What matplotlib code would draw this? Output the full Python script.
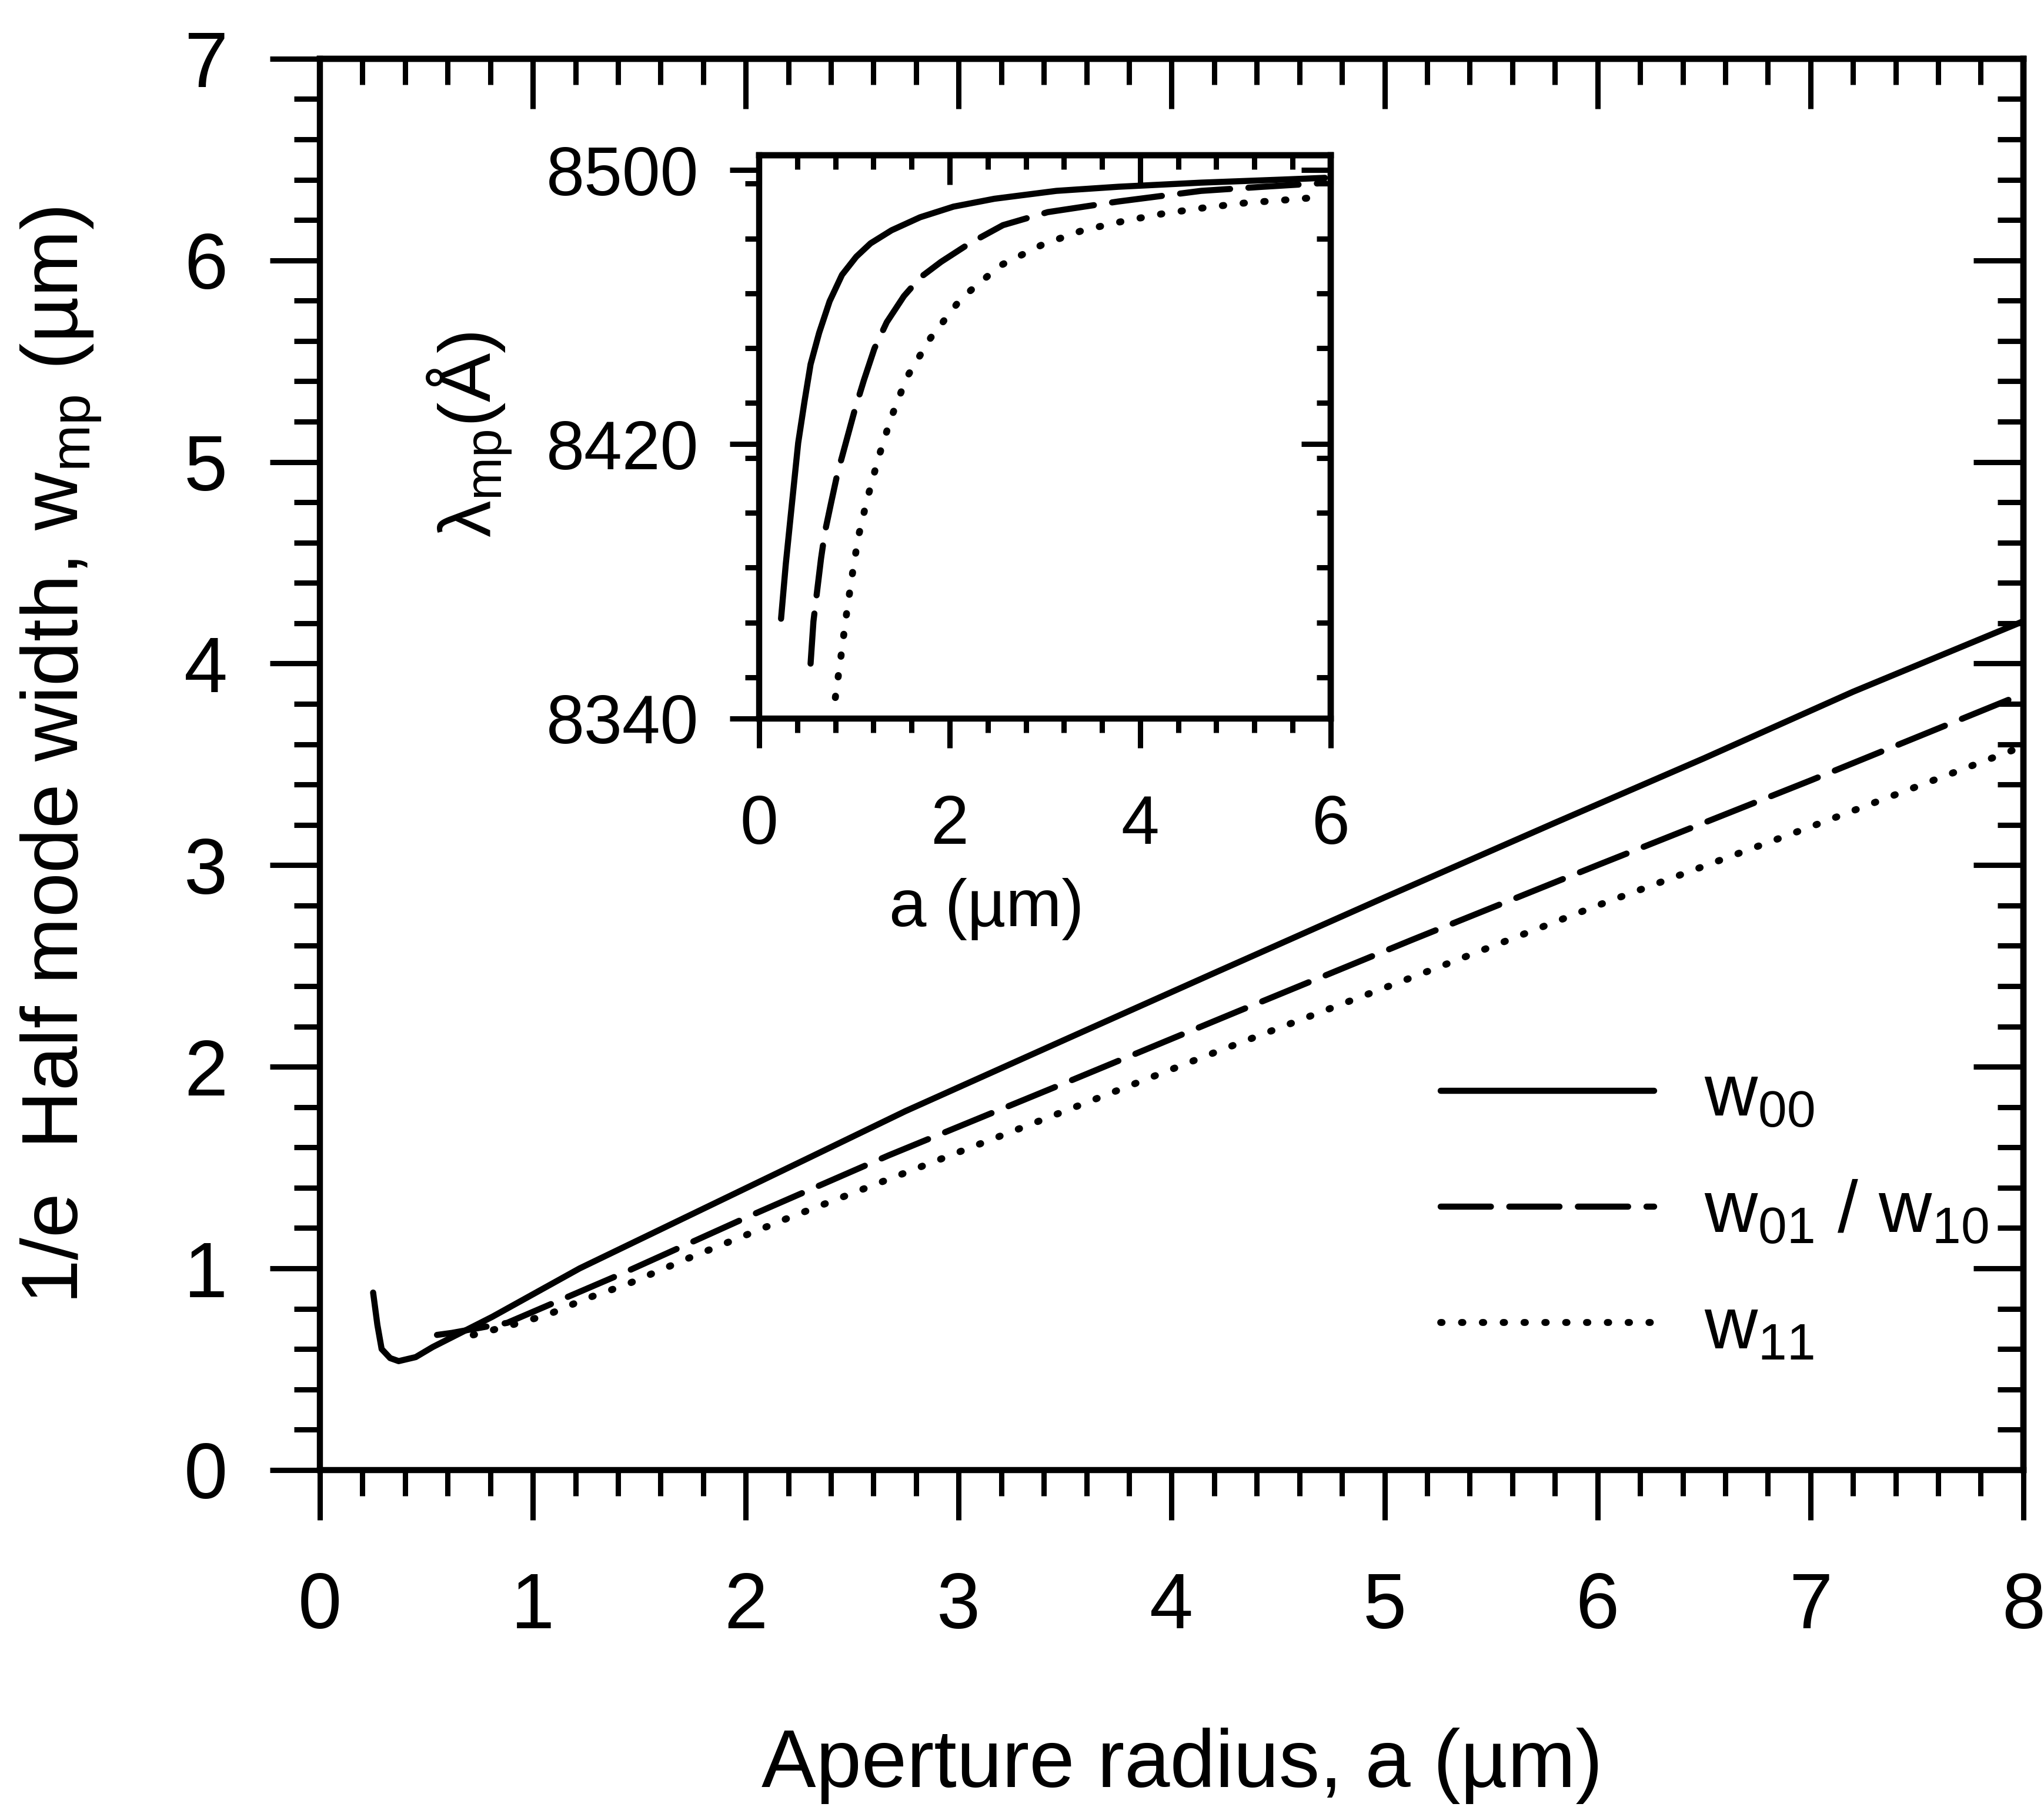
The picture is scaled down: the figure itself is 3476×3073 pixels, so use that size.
import matplotlib
matplotlib.use("Agg")
import matplotlib.pyplot as plt
from matplotlib.ticker import MultipleLocator, FixedLocator

plt.rcParams['font.family'] = ['Liberation Sans', 'DejaVu Sans']
plt.rcParams['mathtext.fontset'] = 'custom'
plt.rcParams['mathtext.rm'] = 'Liberation Sans'
plt.rcParams['mathtext.it'] = 'Liberation Sans:italic'
plt.rcParams['mathtext.bf'] = 'Liberation Sans:bold'

# ---------------- data (main plot: mode width vs aperture radius) -------------
w00_x = [0.25, 0.27, 0.29, 0.33, 0.37, 0.45, 0.53, 0.81, 1.22, 1.75, 2.28, 2.75, 3.5, 4.2, 5.0, 5.8, 6.5, 7.2, 8.0]
w00_y = [0.88, 0.72, 0.60, 0.555, 0.54, 0.56, 0.61, 0.76, 1.00, 1.27, 1.54, 1.78, 2.135, 2.465, 2.84, 3.21, 3.53, 3.86, 4.21]

w01_x = [0.55, 0.62, 0.88, 1.41, 2.04, 2.67, 3.5, 4.3, 5.13, 6.0, 7.0, 8.0]
w01_y = [0.67, 0.68, 0.73, 0.97, 1.27, 1.56, 1.92, 2.27, 2.63, 3.00, 3.42, 3.85]

w11_x = [0.72, 0.87, 1.07, 1.25, 1.44, 1.73, 2.2, 2.69, 3.4, 4.2, 5.17, 6.0, 7.0, 8.0]
w11_y = [0.67, 0.71, 0.77, 0.85, 0.92, 1.05, 1.25, 1.45, 1.74, 2.07, 2.46, 2.80, 3.19, 3.59]

# ---------------- data (inset: lasing wavelength vs aperture radius) ----------
l00_x = [0.23, 0.28, 0.325, 0.37, 0.41, 0.477, 0.54, 0.63, 0.74, 0.87, 1.02, 1.17, 1.39, 1.69,
         2.04, 2.47, 3.12, 3.77, 4.64, 5.50, 5.94]
l00_y = [8369.1, 8385.1, 8397.4, 8409.6, 8420.4, 8432.6, 8443.3, 8452.5, 8461.7, 8469.4, 8474.7,
         8478.6, 8482.4, 8486.2, 8489.3, 8491.6, 8493.9, 8495.1, 8496.3, 8497.2, 8497.7]

l01_x = [0.54, 0.57, 0.61, 0.65, 0.69, 0.76, 0.82, 0.91, 1.00, 1.10, 1.21, 1.34, 1.52, 1.69,
         1.91, 2.21, 2.56, 3.03, 3.77, 4.64, 5.29, 5.94]
l01_y = [8356.0, 8368.3, 8377.5, 8386.7, 8394.3, 8403.5, 8411.2, 8420.4, 8429.6, 8438.7, 8447.9,
         8455.6, 8463.2, 8468.6, 8473.2, 8478.6, 8483.9, 8487.7, 8490.8, 8493.9, 8495.1, 8496.2]

l11_x = [0.80, 0.86, 0.91, 0.97, 1.04, 1.13, 1.25, 1.38, 1.55, 1.80, 2.12, 2.53, 2.98, 3.40,
         3.83, 4.25, 4.68, 5.11, 5.55, 5.94]
l11_y = [8346.1, 8358.3, 8369.1, 8380.6, 8392.8, 8403.5, 8415.8, 8427.3, 8439.5, 8451.0, 8462.5,
         8472.1, 8478.3, 8482.4, 8485.1, 8487.3, 8489.0, 8490.4, 8491.3, 8492.2]

legend_labels = [r'w$_\mathregular{00}$', r'w$_\mathregular{01}$ / w$_\mathregular{10}$', r'w$_\mathregular{11}$']

main_xticks = [0, 1, 2, 3, 4, 5, 6, 7, 8]
main_yticks = [0, 1, 2, 3, 4, 5, 6, 7]
inset_xticks = [0, 2, 4, 6]
inset_yticks = [8340, 8420, 8500]

# ---------------- styles ------------------------------------------------------
LW = 7.5
LW_DOT = 8.5
SOLID = '-'
DASHED = (0, (8.2, 3.0))
DOTTED = (0, (0.2, 2.8))
SPINE_LW = 7.5
TICK_W = 6.5


def style_axes(ax, xt, yt, xminor, yminor, majlen, minlen, fs, xpad, ypad):
    ax.xaxis.set_major_locator(FixedLocator(xt))
    ax.yaxis.set_major_locator(FixedLocator(yt))
    ax.xaxis.set_minor_locator(MultipleLocator(xminor))
    ax.yaxis.set_minor_locator(MultipleLocator(yminor))
    ax.tick_params(which='major', direction='out', length=majlen, width=TICK_W,
                   labelsize=fs, color='black')
    ax.tick_params(which='minor', direction='out', length=minlen, width=TICK_W)
    ax.tick_params(axis='x', which='major', pad=xpad)
    ax.tick_params(axis='y', which='major', pad=ypad)
    for s in ax.spines.values():
        s.set_linewidth(SPINE_LW)
    top = ax.secondary_xaxis('top')
    top.xaxis.set_major_locator(FixedLocator(xt))
    top.xaxis.set_minor_locator(MultipleLocator(xminor))
    top.tick_params(which='major', direction='in', length=majlen, width=TICK_W, labeltop=False)
    top.tick_params(which='minor', direction='in', length=minlen, width=TICK_W)
    top.spines['top'].set_linewidth(SPINE_LW)
    right = ax.secondary_yaxis('right')
    right.yaxis.set_major_locator(FixedLocator(yt))
    right.yaxis.set_minor_locator(MultipleLocator(yminor))
    right.tick_params(which='major', direction='in', length=majlen, width=TICK_W, labelright=False)
    right.tick_params(which='minor', direction='in', length=minlen, width=TICK_W)
    right.spines['right'].set_linewidth(SPINE_LW)


fig = plt.figure(figsize=(34.76, 30.73), dpi=100)

# ---------------- main axes ---------------------------------------------------
ax = fig.add_axes([0.1565, 0.1865, 0.8334, 0.781])
ax.plot(w00_x, w00_y, color='black', lw=LW, ls=SOLID, label=legend_labels[0],
        solid_capstyle='round', solid_joinstyle='round')
ax.plot(w01_x, w01_y, color='black', lw=LW, ls=DASHED, label=legend_labels[1],
        dash_capstyle='round', dash_joinstyle='round')
ax.plot(w11_x, w11_y, color='black', lw=LW_DOT, ls=DOTTED, label=legend_labels[2],
        dash_capstyle='round')
ax.set_xlim(0, 8)
ax.set_ylim(0, 7)
style_axes(ax, main_xticks, main_yticks, 0.2, 0.2, 61, 32, 96, 63, 52)
ax.set_xlabel('Aperture radius, a (µm)', fontsize=100)
ax.xaxis.set_label_coords(0.506, -0.1825)
ax.set_ylabel(r'1/e  Half mode width, w$_\mathregular{mp}$ (µm)', fontsize=98)
ax.yaxis.set_label_coords(-0.127, 0.506)

leg = ax.legend(loc='upper left', bbox_to_anchor=(0.658, 0.288), frameon=False,
                fontsize=90, handlelength=2.9, handletextpad=0.68,
                labelspacing=0.65, borderpad=0, borderaxespad=0)

# ---------------- inset -------------------------------------------------------
ins = fig.add_axes([0.3714, 0.6024, 0.2796, 0.3117])
ins.plot(l00_x, l00_y, color='black', lw=LW, ls=SOLID, solid_capstyle='round',
         solid_joinstyle='round')
ins.plot(l01_x, l01_y, color='black', lw=LW, ls=DASHED, dash_capstyle='round',
         dash_joinstyle='round')
ins.plot(l11_x, l11_y, color='black', lw=LW_DOT, ls=DOTTED, dash_capstyle='round')
ins.set_xlim(0, 6)
ins.set_ylim(8340, 8504.3)
style_axes(ins, inset_xticks, inset_yticks, 0.4, 16, 36, 17, 84, 56, 38)
ins.set_xlabel('a (µm)', fontsize=82)
ins.xaxis.set_label_coords(0.398, -0.283)
ins.set_ylabel(r'λ$_\mathregular{mp}$(Å)', fontsize=90)
ins.yaxis.set_label_coords(-0.429, 0.504)

fig.savefig('out.png', dpi=100)
